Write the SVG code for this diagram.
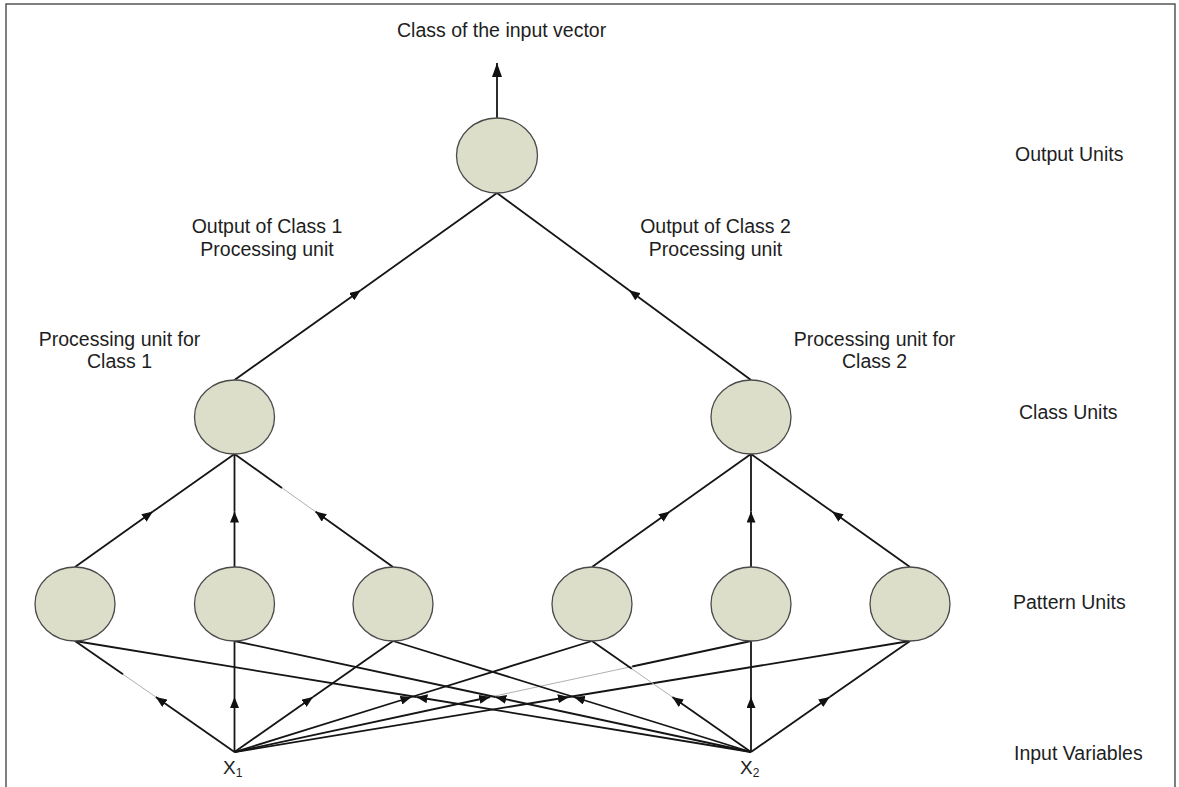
<svg xmlns="http://www.w3.org/2000/svg" width="1179" height="787" viewBox="0 0 1179 787">
<style>
.node{fill:#dcdec9;stroke:#4a4a4a;stroke-width:1.3}
.ln{fill:none;stroke:#151515;stroke-width:1.8}
.ar{fill:none;stroke:#151515;stroke-width:1.8;marker-end:url(#ah)}
.fa{fill:none;stroke:#b0b0b0;stroke-width:1}
text{font-family:"Liberation Sans",Arial,sans-serif;font-size:19.5px;fill:#1e1e1e}
.c{text-anchor:middle}
</style>
<defs>
<marker id="ah" viewBox="0 0 11 9" refX="11" refY="4.5" markerWidth="11" markerHeight="9" markerUnits="userSpaceOnUse" orient="auto"><path d="M0,0 L11,4.5 L0,9 z" fill="#111"/></marker>
<marker id="ahb" viewBox="0 0 14 10" refX="14" refY="5" markerWidth="14" markerHeight="10" markerUnits="userSpaceOnUse" orient="auto"><path d="M0,0 L14,5 L0,10 z" fill="#111"/></marker>
</defs>
<rect x="0" y="0" width="1179" height="787" fill="#fff"/>
<rect x="6" y="4" width="1169" height="800" fill="none" stroke="#555" stroke-width="1.5"/>

<g id="connectors">
<path d="M497,118 L497,63" class="ln" style="marker-end:url(#ahb)"/>
<path d="M234.5,380 L360.7,290.2" class="ar"/><path d="M360.7,290.2 L497,193" class="ln"/>
<path d="M751,380 L629.1,290.2" class="ar"/><path d="M629.1,290.2 L497,193" class="ln"/>
<path d="M75,567 L152.9,511.6" class="ar"/><path d="M152.9,511.6 L234.5,454" class="ln"/>
<path d="M234.5,567 L234.5,511.6" class="ar"/><path d="M234.5,511.6 L234.5,454" class="ln"/>
<path d="M393,567 L315.4,511.6" class="ar"/><path d="M315.4,511.6 L282,487.9" class="fa"/><path d="M282,487.9 L234.5,454" class="ln"/>
<path d="M592,567 L669.9,511.6" class="ar"/><path d="M669.9,511.6 L751,454" class="ln"/>
<path d="M751,567 L751,511.6" class="ar"/><path d="M751,511.6 L751,454" class="ln"/>
<path d="M910,567 L832.1,511.6" class="ar"/><path d="M832.1,511.6 L751,454" class="ln"/>
<path d="M234.5,752 L155.8,697" class="ar"/><path d="M155.8,697 L123,674.3" class="fa"/><path d="M123,674.3 L75,641" class="ln"/>
<path d="M234.5,752 L234.5,697" class="ar"/><path d="M234.5,697 L234.5,641" class="ln"/>
<path d="M234.5,752 L313,697" class="ar"/><path d="M313,697 L393,641" class="ln"/>
<path d="M234.5,752 L411.5,697" class="ar"/><path d="M411.5,697 L592,641" class="ln"/>
<path d="M234.5,752 L490.2,697" class="ar"/><path d="M490.2,697 L632.2,666.5" class="fa"/><path d="M632.2,666.5 L751,641" class="ln"/>
<path d="M234.5,752 L568.9,697" class="ar"/><path d="M568.9,697 L910,641" class="ln"/>
<path d="M751,752 L829.7,697" class="ar"/><path d="M829.7,697 L910,641" class="ln"/>
<path d="M751,752 L751,697" class="ar"/><path d="M751,697 L751,641" class="ln"/>
<path d="M751,752 L672.3,697" class="ar"/><path d="M672.3,697 L631.8,668.8" class="fa"/><path d="M631.8,668.8 L592,641" class="ln"/>
<path d="M751,752 L573.8,697" class="ar"/><path d="M573.8,697 L393,641" class="ln"/>
<path d="M751,752 L495.3,697" class="ar"/><path d="M495.3,697 L234.5,641" class="ln"/>
<path d="M751,752 L416.4,697" class="ar"/><path d="M416.4,697 L75,641" class="ln"/>
</g>

<g id="output-unit"><ellipse class="node" cx="497" cy="155.5" rx="40.5" ry="37.5"/></g>
<g id="class-unit-1"><ellipse class="node" cx="234.5" cy="417" rx="40" ry="37"/></g>
<g id="class-unit-2"><ellipse class="node" cx="751" cy="417" rx="40" ry="37"/></g>
<g id="pattern-unit-1"><ellipse class="node" cx="75" cy="604" rx="40" ry="37"/></g>
<g id="pattern-unit-2"><ellipse class="node" cx="234.5" cy="604" rx="40" ry="37"/></g>
<g id="pattern-unit-3"><ellipse class="node" cx="393" cy="604" rx="40" ry="37"/></g>
<g id="pattern-unit-4"><ellipse class="node" cx="592" cy="604" rx="40" ry="37"/></g>
<g id="pattern-unit-5"><ellipse class="node" cx="751" cy="604" rx="40" ry="37"/></g>
<g id="pattern-unit-6"><ellipse class="node" cx="910" cy="604" rx="40" ry="37"/></g>
<g id="input-x1"><text x="223" y="774" style="font-size:19px">X<tspan dy="3" style="font-size:12px">1</tspan></text></g>
<g id="input-x2"><text x="740" y="774" style="font-size:19px">X<tspan dy="3" style="font-size:12px">2</tspan></text></g>

<g id="labels">
<text x="397" y="37">Class of the input vector</text>
<text x="1015" y="161">Output Units</text>
<text x="1019" y="419">Class Units</text>
<text x="1013" y="609">Pattern Units</text>
<text x="1014" y="760">Input Variables</text>
<text class="c" x="267" y="233">Output of Class 1</text>
<text class="c" x="267" y="256">Processing unit</text>
<text class="c" x="715.5" y="233">Output of Class 2</text>
<text class="c" x="715.5" y="256">Processing unit</text>
<text class="c" x="119.5" y="346">Processing unit for</text>
<text class="c" x="119.5" y="368">Class 1</text>
<text class="c" x="874.5" y="346">Processing unit for</text>
<text class="c" x="874.5" y="368">Class 2</text>
</g>
</svg>
